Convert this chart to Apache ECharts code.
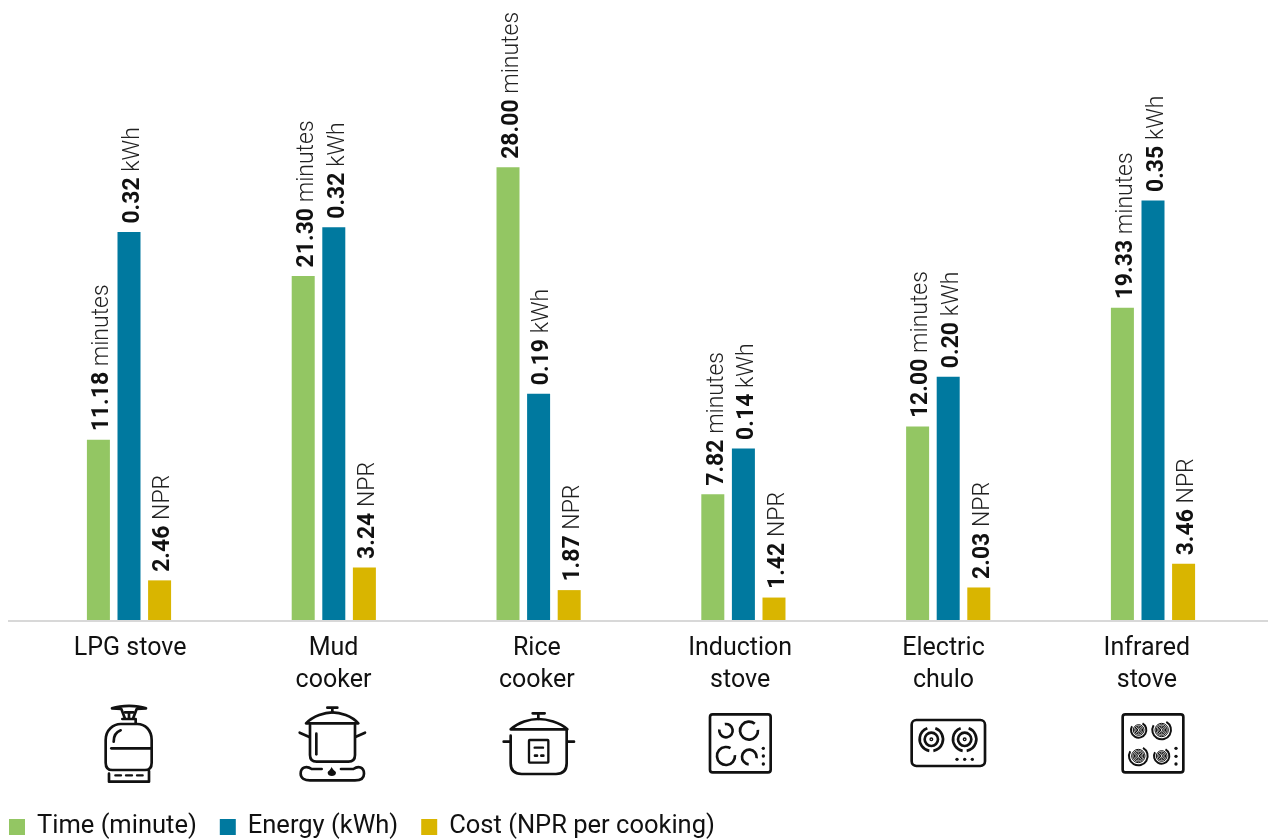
<!DOCTYPE html>
<html><head><meta charset="utf-8">
<style>html,body{margin:0;padding:0;background:#fff}#c{width:1268px;height:839px}</style>
<script src="https://cdn.jsdelivr.net/npm/echarts@6/dist/echarts.min.js"></script>
</head><body><div id="c"></div>
<script>
const categories = ['LPG stove','Mud\ncooker','Rice\ncooker','Induction\nstove','Electric\nchulo','Infrared\nstove'];
const timeValues = [11.18,21.30,28.00,7.82,12.00,19.33];
const energyValues = [0.32,0.324,0.187,0.142,0.201,0.346];
const costValues = [2.46,3.24,1.87,1.42,2.03,3.46];
const FONT = 'Roboto';
const INK = '#111';

let shapeCount = 0;
function shapeFrom(d){
  const name = 'iconShape' + (shapeCount++);
  echarts.graphic.registerShape(name, echarts.graphic.extendPath(d, {}));
  return name;
}
function p(d, lw){ return {type:shapeFrom(d), style:{fill:'none', stroke:INK, lineWidth:lw||8, lineCap:'round', lineJoin:'round'}}; }
function fillP(d){ return {type:shapeFrom(d), style:{fill:INK, stroke:'none'}}; }
function arc(cx,cy,r,a0,a1,lw){ return {type:'arc', shape:{cx,cy,r,startAngle:a0*Math.PI/180,endAngle:a1*Math.PI/180,clockwise:true}, style:{fill:'none',stroke:INK,lineWidth:lw||8,lineCap:'butt'}}; }
function dot(cx,cy,r){ return {type:'circle', shape:{cx,cy,r}, style:{fill:INK,stroke:'none'}}; }
function rrect(x,y,w,h,r,lw){ return {type:'rect', shape:{x,y,width:w,height:h,r}, style:{fill:'none',stroke:INK,lineWidth:lw||8}}; }
function icon(x,y,children){ return {type:'group', x, y, scaleX:1/3, scaleY:1/3, silent:true, children}; }

const lpg = icon(80,695,[
  p('M96 40 C125 30 170 30 198 40 L170 42 L160 68 M96 40 L124 42 L134 68'),
  p('M135 52 H160 M147 52 V70 M127 72 H167 V86'),
  p('M77 135 C77 105 100 87 122 87 H172 C195 87 215 105 215 135 V203 Q215 225 195 225 H97 Q77 225 77 203 Z'),
  p('M94 160 H212'),
  p('M101 140 Q101 114 122 106'),
  p('M87 236 V260 H207 V228'),
  p('M106 241 H123 M138 241 H156 M171 241 H188',7)
]);
const mud = icon(80,695,[
  p('M742 38 H772 M757 38 V52'),
  p('M678 85 C700 62 735 52 757 52 C780 52 815 62 835 85 Z'),
  p('M690 90 V180 Q690 200 710 200 H805 Q825 200 825 180 V90'),
  p('M659 113 L688 126 M855 113 L826 126'),
  p('M709 116 V178'),
  p('M725 222 H695 C680 212 662 216 662 236 C662 250 675 256 690 256 H825 C840 256 852 250 852 236 C852 216 835 212 820 222 H783'),
  fillP('M755 215 C758 225 768 228 768 233 C768 246 743 246 743 233 C743 228 752 225 755 215 Z')
]);
const rice = icon(480,695,[
  p('M158 55 H194 M175 55 V72'),
  p('M92 103 C115 82 150 72 175 72 C200 72 240 82 262 103 Z'),
  p('M92 122 V205 Q92 237 125 237 H228 Q260 237 260 205 V106'),
  p('M71 140 H90 M263 140 H282'),
  rrect(147,135,58,68,2,7),
  p('M164 158 H189',7),
  p('M165 182 H171 M184 182 H190',8)
]);
const induction = icon(480,695,[
  rrect(690,58,182,174,8,8),
  arc(738,107,20,-100,190),
  arc(807,107,27,-5,310),
  arc(738,183,27,-5,300),
  arc(808,186,22,95,370),
  dot(850,160,5),dot(850,183,5),dot(850,207,5)
]);
const electric = icon(890,695,[
  rrect(65,75,220,138,14,8),
  arc(124,133,35,-70,80,8), arc(124,133,35,100,250,8),
  arc(124,133,20,0,360,8), arc(124,133,4,0,360,4),
  arc(224,133,35,-70,80,8), arc(224,133,35,100,250,8),
  arc(224,133,20,0,360,8), arc(224,133,4,0,360,4),
  dot(201,193,5),dot(224,193,5),dot(247,193,5)
]);
function spiral(cx,cy,R){
  const out=[arc(cx,cy,R,-60,210,6)];
  for(let r=4;r<R-6;r+=4) out.push(arc(cx,cy,r,0,360,3));
  return out;
}
const infrared = icon(890,695,[
  rrect(698,58,182,174,8,8),
  ...spiral(746,105,23), ...spiral(815,105,28), ...spiral(745,183,28), ...spiral(815,183,23),
  dot(858,160,5),dot(858,184,5),dot(858,207,5)
]);

function makeBar(name,values,color,yIdx,unit){
  return {name, type:'bar', data:values, xAxisIndex:0, yAxisIndex:yIdx, barWidth:23, barGap:'33%', silent:true,
    itemStyle:{color},
    label:{show:true, position:'top', rotate:90, align:'left', verticalAlign:'middle', distance:9, offset:[-0.5,4],
      fontFamily:FONT, fontSize:23,
      formatter:(o)=>'{b|'+o.value.toFixed(2)+'} {n|'+unit+'}',
      rich:{b:{fontFamily:FONT,fontWeight:700,fontSize:23,color:'#111'},n:{fontFamily:FONT,fontWeight:300,fontSize:23,color:'#222'}}}
  };
}

const chart = echarts.init(document.getElementById('c'),null,{renderer:'canvas'});
chart.setOption({
  animation:false,
  backgroundColor:'#fff',
  grid:[{left:26.6,width:1228.8,top:0,height:621},{left:28.5,width:1220,top:0,height:621}],
  xAxis:[
    {type:'category',gridIndex:0,data:categories,show:false},
    {type:'category',gridIndex:1,data:categories,axisLine:{show:false},axisTick:{show:false},
     axisLabel:{interval:0,margin:12,fontFamily:FONT,fontSize:25,lineHeight:32,color:'#111',align:'center',verticalAlign:'top'}}
  ],
  yAxis:[
    {type:'value',gridIndex:0,min:0,max:38.33,show:false},
    {type:'value',gridIndex:0,min:0,max:0.511,show:false},
    {type:'value',gridIndex:0,min:0,max:37.6,show:false},
    {type:'value',gridIndex:1,min:0,max:1,show:false}
  ],
  legend:{left:4,top:809,itemWidth:16,itemHeight:16,itemGap:23,icon:'rect',selectedMode:false,
    textStyle:{fontFamily:FONT,fontSize:25.5,color:'#111',padding:[0,0,0,7]},
    data:['Time (minute)','Energy (kWh)','Cost (NPR per cooking)']},
  series:[
    makeBar('Time (minute)',timeValues,'#93c663',0,'minutes'),
    makeBar('Energy (kWh)',energyValues,'#00799f',1,'kWh'),
    makeBar('Cost (NPR per cooking)',costValues,'#d9b500',2,'NPR')
  ],
  graphic:[
    {type:'line',silent:true,shape:{x1:8,y1:621,x2:1268,y2:621},style:{stroke:'#d8d8d8',lineWidth:2},z:10},
    lpg,mud,rice,induction,electric,infrared
  ]
});
</script></body></html>
